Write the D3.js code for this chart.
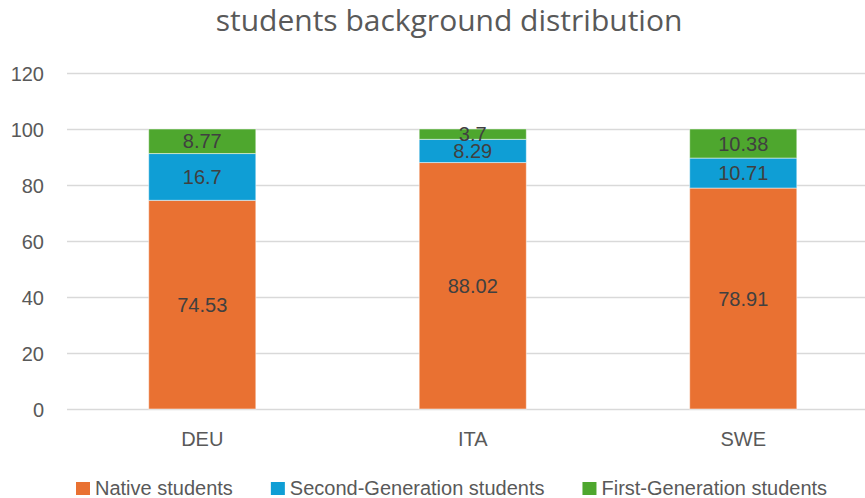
<!DOCTYPE html>
<html>
<head>
<meta charset="utf-8">
<script src="https://cdn.jsdelivr.net/npm/d3@7"></script>
<style>
  html, body { margin: 0; padding: 0; background: #fff; }
  svg { display: block; }
</style>
</head>
<body>
<svg id="chart" width="865" height="498"></svg>
<script>
// Countries on the x axis
const countries = ["DEU", "ITA", "SWE"];
// Share of students (%) per background, stacked bottom to top
const nativeStudents = [74.53, 88.02, 78.91];
const secondGeneration = [16.7, 8.29, 10.71];
const firstGeneration = [8.77, 3.7, 10.38];
const seriesNames = ["Native students", "Second-Generation students", "First-Generation students"];
const seriesColors = ["#E97132", "#0F9ED5", "#4EA72E"];
const yTicks = [0, 20, 40, 60, 80, 100, 120];
const titleText = "students background distribution";

const rows = countries.map((c, i) => ({
  country: c,
  "Native students": nativeStudents[i],
  "Second-Generation students": secondGeneration[i],
  "First-Generation students": firstGeneration[i]
}));

const svg = d3.select("#chart");
const plot = { left: 67, right: 878.5, top: 73, bottom: 409 };

const x = d3.scaleBand()
  .domain(countries)
  .range([plot.left, plot.right])
  .paddingInner(0.604)
  .paddingOuter(0.302);

const y = d3.scaleLinear()
  .domain([0, 120])
  .range([plot.bottom, plot.top]);

const color = d3.scaleOrdinal().domain(seriesNames).range(seriesColors);

// Title
svg.append("text")
  .attr("x", 449)
  .attr("y", 31)
  .attr("text-anchor", "middle")
  .attr("font-family", "'Open Sans', sans-serif")
  .attr("font-size", 30)
  .attr("fill", "#595959")
  .text(titleText);

// Horizontal gridlines
svg.append("g")
  .selectAll("line")
  .data(yTicks)
  .join("line")
  .attr("x1", plot.left)
  .attr("x2", plot.right)
  .attr("y1", d => Math.round(y(d)) + 0.5)
  .attr("y2", d => Math.round(y(d)) + 0.5)
  .attr("stroke", "#d9d9d9")
  .attr("stroke-width", 1.3);

// Y axis labels
const yAxis = d3.axisLeft(y).tickValues(yTicks).tickSize(0).tickPadding(0);
const yg = svg.append("g")
  .attr("transform", `translate(44,0)`)
  .call(yAxis);
yg.select(".domain").remove();
yg.selectAll("text")
  .attr("font-family", "'Liberation Sans', Arial, sans-serif")
  .attr("font-size", 20)
  .attr("fill", "#595959")
  .attr("dy", "0.36em");

// X axis labels
const xAxis = d3.axisBottom(x).tickSize(0).tickPadding(0);
const xg = svg.append("g")
  .attr("transform", `translate(0,446)`)
  .call(xAxis);
xg.select(".domain").remove();
xg.selectAll("text")
  .attr("font-family", "'Liberation Sans', Arial, sans-serif")
  .attr("font-size", 20)
  .attr("fill", "#595959")
  .attr("dy", 0);

// Stacked bars
const stacked = d3.stack().keys(seriesNames)(rows);

const layers = svg.append("g")
  .selectAll("g")
  .data(stacked)
  .join("g")
  .attr("fill", d => color(d.key));

layers.selectAll("rect")
  .data(d => d)
  .join("rect")
  .attr("x", d => x(d.data.country))
  .attr("width", x.bandwidth())
  .attr("y", d => y(d[1]))
  .attr("height", d => y(d[0]) - y(d[1]))
  .attr("stroke", "#ffffff")
  .attr("stroke-opacity", 0.5)
  .attr("stroke-width", 1);

// Value labels centred in each segment
const labelLayers = svg.append("g")
  .selectAll("g")
  .data(stacked)
  .join("g");

labelLayers.selectAll("text")
  .data(d => d.map(v => ({ v, key: d.key })))
  .join("text")
  .attr("x", d => x(d.v.data.country) + x.bandwidth() / 2)
  .attr("y", d => (y(d.v[0]) + y(d.v[1])) / 2)
  .attr("dy", "0.36em")
  .attr("text-anchor", "middle")
  .attr("font-family", "'Liberation Sans', Arial, sans-serif")
  .attr("font-size", 20)
  .attr("fill", "#404040")
  .text(d => d.v.data[d.key]);

// Legend
const legend = svg.append("g").attr("transform", "translate(76,0)");
let lx = 0;
seriesNames.forEach(name => {
  const item = legend.append("g").attr("transform", `translate(${lx},0)`);
  item.append("rect")
    .attr("x", 0)
    .attr("y", 482)
    .attr("width", 14)
    .attr("height", 13)
    .attr("fill", color(name));
  const t = item.append("text")
    .attr("x", 19)
    .attr("y", 495)
    .attr("font-family", "'Liberation Sans', Arial, sans-serif")
    .attr("font-size", 20)
    .attr("fill", "#595959")
    .text(name);
  lx += 19 + t.node().getComputedTextLength() + 38;
});
</script>
</body>
</html>
